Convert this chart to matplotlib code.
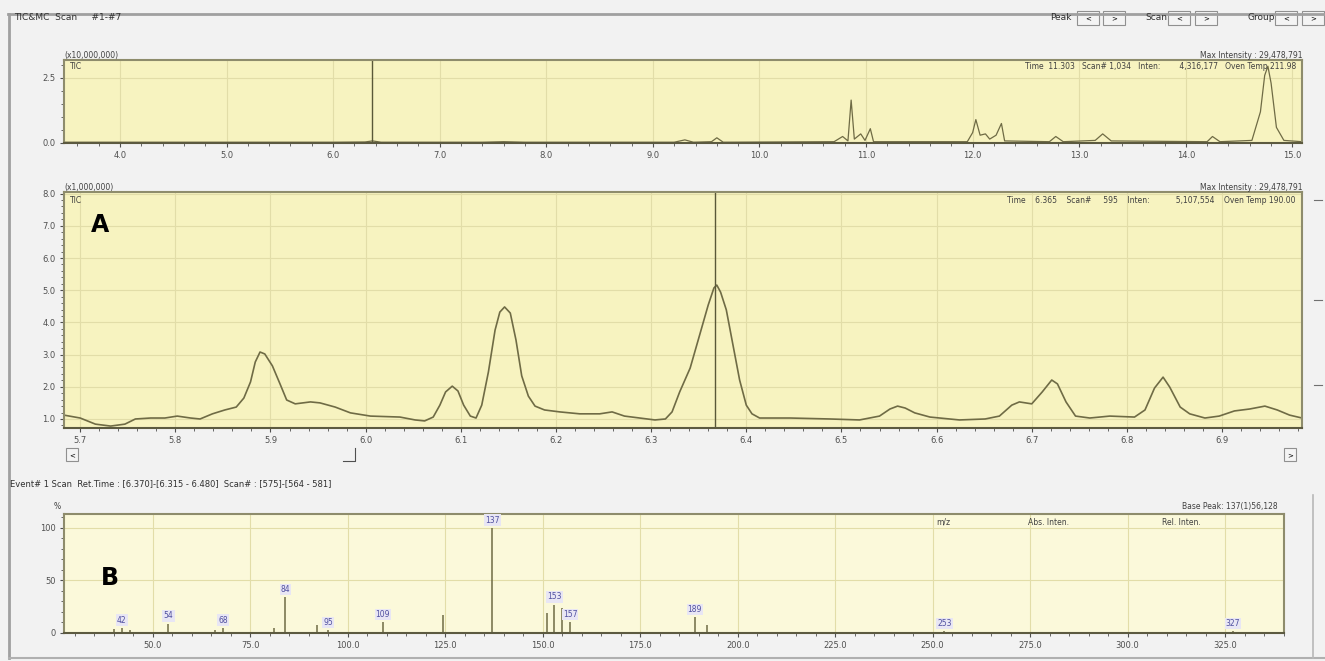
import matplotlib
matplotlib.use("Agg")
import matplotlib.pyplot as plt
from matplotlib.patches import Rectangle
from matplotlib.ticker import MultipleLocator

plt.rcParams.update({
    "font.family": "DejaVu Sans",
    "font.size": 6,
})

W, H = 1325, 661

# ── data ──────────────────────────────────────────────────────────────────────
# full TIC (x10,000,000)
tic_t = [3.475, 6.0, 6.30, 6.37, 6.45, 7.40, 7.60, 7.80, 9.20, 9.30, 9.38, 9.55,
         9.60, 9.66, 10.70, 10.78, 10.83, 10.86, 10.89, 10.95, 10.99, 11.04, 11.07,
         11.95, 12.00, 12.03, 12.07, 12.12, 12.16, 12.22, 12.27, 12.30, 12.72,
         12.78, 12.85, 13.15, 13.22, 13.30, 14.20, 14.25, 14.32, 14.62, 14.70,
         14.74, 14.77, 14.80, 14.85, 14.92, 15.09]
tic_i = [0.03, 0.03, 0.04, 0.08, 0.03, 0.03, 0.05, 0.03, 0.03, 0.12, 0.03, 0.05,
         0.20, 0.03, 0.05, 0.25, 0.08, 1.65, 0.15, 0.35, 0.10, 0.55, 0.05,
         0.05, 0.40, 0.90, 0.30, 0.35, 0.15, 0.30, 0.75, 0.08, 0.05,
         0.25, 0.05, 0.10, 0.35, 0.08, 0.05, 0.25, 0.05, 0.10, 1.20,
         2.60, 2.95, 2.30, 0.60, 0.10, 0.05]

# zoomed TIC (x1,000,000)
zoom_t = [5.683, 5.700, 5.716, 5.732, 5.747, 5.758, 5.774, 5.789, 5.802, 5.816,
          5.826, 5.839, 5.852, 5.864, 5.872, 5.879, 5.884, 5.889, 5.894, 5.902,
          5.910, 5.917, 5.926, 5.942, 5.952, 5.968, 5.984, 6.005, 6.036, 6.052,
          6.062, 6.071, 6.078, 6.084, 6.091, 6.097, 6.103, 6.110, 6.116, 6.122,
          6.129, 6.136, 6.141, 6.146, 6.152, 6.158, 6.164, 6.171, 6.178, 6.188,
          6.204, 6.225, 6.246, 6.259, 6.272, 6.288, 6.304, 6.315, 6.322, 6.330,
          6.341, 6.351, 6.360, 6.366, 6.369, 6.373, 6.379, 6.386, 6.393, 6.400,
          6.406, 6.414, 6.446, 6.488, 6.519, 6.540, 6.551, 6.559, 6.567, 6.577,
          6.593, 6.624, 6.651, 6.666, 6.679, 6.687, 6.700, 6.711, 6.721, 6.727,
          6.736, 6.746, 6.761, 6.782, 6.808, 6.819, 6.829, 6.838, 6.845, 6.856,
          6.866, 6.882, 6.897, 6.913, 6.929, 6.945, 6.958, 6.971, 6.984]
zoom_i = [1.12, 1.03, 0.84, 0.78, 0.84, 1.00, 1.03, 1.03, 1.09, 1.03,
          1.00, 1.16, 1.28, 1.37, 1.65, 2.15, 2.77, 3.08, 3.02, 2.65,
          2.09, 1.59, 1.47, 1.53, 1.50, 1.37, 1.19, 1.09, 1.06, 0.97,
          0.94, 1.06, 1.43, 1.84, 2.02, 1.87, 1.43, 1.09, 1.03, 1.43,
          2.46, 3.76, 4.32, 4.48, 4.29, 3.45, 2.34, 1.71, 1.40, 1.28,
          1.22, 1.16, 1.16, 1.22, 1.09, 1.03, 0.97, 1.00, 1.22, 1.84,
          2.58, 3.61, 4.54, 5.07, 5.16, 4.94, 4.39, 3.30, 2.21, 1.43,
          1.16, 1.03, 1.03, 1.00, 0.97, 1.09, 1.31, 1.40, 1.34, 1.19,
          1.06, 0.97, 1.00, 1.09, 1.43, 1.53, 1.47, 1.84, 2.21, 2.09,
          1.53, 1.09, 1.03, 1.09, 1.06, 1.28, 1.96, 2.30, 1.99, 1.37,
          1.16, 1.03, 1.09, 1.25, 1.31, 1.40, 1.28, 1.12, 1.03]
cursor_t = 6.367

# mass spectrum
mz = [40, 42, 44, 54, 66, 68, 81, 84, 92, 95, 109, 124.5, 137, 151, 153,
      155, 157, 189, 192, 253, 327]
rel = [4, 5, 3, 9, 3, 5, 5, 34, 8, 3, 10, 17, 100, 19, 27,
       24, 10, 15, 8, 2, 2]
mz_labels = {42: "42", 54: "54", 68: "68", 84: "84", 95: "95", 109: "109",
             137: "137", 153: "153", 157: "157", 189: "189", 253: "253",
             327: "327"}

# ── layout helpers ────────────────────────────────────────────────────────────
def box(l, t, r, b):
    return [l / W, 1 - b / H, (r - l) / W, (b - t) / H]


fig = plt.figure(figsize=(W / 100, H / 100), dpi=100)
fig.patch.set_facecolor("#f2f2f2")

bg = fig.add_axes([0, 0, 1, 1], zorder=-1)
bg.set_xlim(0, W)
bg.set_ylim(H, 0)
bg.axis("off")

# window frames
bg.plot([8, W], [14, 14], color="#a0a0a0", lw=2)
bg.plot([9, 9], [14, 658], color="#a0a0a0", lw=2)
bg.plot([9, W], [658, 658], color="#b0b0b0", lw=1.5)
bg.plot([1313, 1313], [495, 658], color="#b8b8b8", lw=1.2)

bg.text(14, 18, "TIC&MC  Scan     #1-#7", fontsize=6.5, va="center", color="#303030")

# navigation buttons
bx = [(1050, "Peak", [1077, 1103]), (1145, "Scan", [1168, 1195]),
      (1248, "Group", [1275, 1302])]
for x0, lab, starts in bx:
    bg.text(x0, 18, lab, fontsize=6.5, va="center", color="#303030")
    for s, arr in zip(starts, ["<", ">"]):
        bg.add_patch(Rectangle((s, 11), 22, 14, fc="#f4f4f4", ec="#909090", lw=0.8))
        bg.text(s + 11, 18, arr, fontsize=5, ha="center", va="center")

# small scroll controls under chromatogram
for xx, s in [(72, "<"), (1290, ">")]:
    bg.add_patch(Rectangle((xx - 6, 448), 12, 13, fc="#f4f4f4", ec="#909090", lw=0.8))
    bg.text(xx, 455, s, fontsize=5, ha="center", va="center")
bg.plot([343, 355, 355], [461, 461, 448], color="#505050", lw=0.8)
for yy in [200, 300, 385]:
    bg.plot([1314, 1322], [yy, yy], color="#707070", lw=0.8)

bg.text(10, 484, "Event# 1 Scan  Ret.Time : [6.370]-[6.315 - 6.480]  Scan# : [575]-[564 - 581]",
        fontsize=6, va="center", color="#303030")

LINE = "#6f6b45"
GRID = "#e2dda8"
SPINE = "#8e8c6c"


def style(ax, face):
    ax.set_facecolor(face)
    for s in ax.spines.values():
        s.set_color(SPINE)
        s.set_linewidth(1.5)
    ax.spines["bottom"].set_color("#5c5a40")
    ax.tick_params(direction="out", length=3, width=0.8, colors="#505050",
                   labelsize=6, pad=3)
    ax.tick_params(which="minor", length=2, width=0.6, colors="#505050")
    ax.grid(True, color=GRID, lw=0.8)
    ax.set_axisbelow(True)


# ── top: full TIC ─────────────────────────────────────────────────────────────
ax1 = fig.add_axes(box(64, 60, 1302, 143))
style(ax1, "#f7f3c0")
ax1.plot(tic_t, tic_i, color=LINE, lw=0.9)
ax1.axvline(cursor_t, color="#5a5838", lw=1.0)
ax1.set_xlim(3.475, 15.09)
ax1.set_ylim(0, 3.19)
ax1.xaxis.set_major_locator(MultipleLocator(1.0))
ax1.xaxis.set_minor_locator(MultipleLocator(0.2))
ax1.yaxis.set_major_locator(MultipleLocator(2.5))
ax1.yaxis.set_minor_locator(MultipleLocator(0.5))
ax1.xaxis.set_major_formatter(lambda v, p: f"{v:.1f}")
ax1.yaxis.set_major_formatter(lambda v, p: f"{v:.1f}")
ax1.text(0.0, 1.02, "(x10,000,000)", transform=ax1.transAxes, fontsize=5.5, color="#404040")
ax1.text(0.005, 0.97, "TIC", transform=ax1.transAxes, fontsize=5.5, va="top", color="#404040")
ax1.text(1.0, 1.02, "Max Intensity : 29,478,791", transform=ax1.transAxes,
         fontsize=5.5, ha="right", color="#404040")
ax1.text(0.995, 0.97, "Time  11.303   Scan# 1,034   Inten:        4,316,177   Oven Temp 211.98",
         transform=ax1.transAxes, fontsize=5.5, ha="right", va="top", color="#404040")

# ── middle: zoomed TIC ────────────────────────────────────────────────────────
ax2 = fig.add_axes(box(64, 192, 1302, 428))
style(ax2, "#f7f3c0")
ax2.plot(zoom_t, zoom_i, color=LINE, lw=1.2, solid_joinstyle="round")
ax2.axvline(cursor_t, color="#5a5838", lw=1.0)
ax2.set_xlim(5.683, 6.984)
ax2.set_ylim(0.72, 8.05)
ax2.xaxis.set_major_locator(MultipleLocator(0.1))
ax2.xaxis.set_minor_locator(MultipleLocator(0.02))
ax2.yaxis.set_major_locator(MultipleLocator(1.0))
ax2.yaxis.set_minor_locator(MultipleLocator(0.2))
ax2.xaxis.set_major_formatter(lambda v, p: f"{v:.1f}")
ax2.yaxis.set_major_formatter(lambda v, p: f"{v:.1f}")
ax2.text(0.0, 1.01, "(x1,000,000)", transform=ax2.transAxes, fontsize=5.5, color="#404040")
ax2.text(0.005, 0.985, "TIC", transform=ax2.transAxes, fontsize=5.5, va="top", color="#404040")
ax2.text(1.0, 1.01, "Max Intensity : 29,478,791", transform=ax2.transAxes,
         fontsize=5.5, ha="right", color="#404040")
ax2.text(0.995, 0.985, "Time    6.365    Scan#     595    Inten:           5,107,554    Oven Temp 190.00",
         transform=ax2.transAxes, fontsize=5.5, ha="right", va="top", color="#404040")
ax2.text(0.022, 0.83, "A", transform=ax2.transAxes, fontsize=17, fontweight="bold")

# ── bottom: mass spectrum ─────────────────────────────────────────────────────
ax3 = fig.add_axes(box(64, 514, 1284, 633))
style(ax3, "#fbf9da")
ax3.vlines(mz, 0, rel, color=LINE, lw=1.1)
for m, r in zip(mz, rel):
    if m in mz_labels:
        ax3.text(m, r + 3, mz_labels[m], fontsize=5.5, ha="center", va="bottom",
                 color="#5050a0",
                 bbox=dict(boxstyle="square,pad=0.15", fc="#e8e6f4", ec="none"))
ax3.set_xlim(27.2, 340.1)
ax3.set_ylim(0, 113)
ax3.xaxis.set_major_locator(MultipleLocator(25))
ax3.xaxis.set_minor_locator(MultipleLocator(5))
ax3.yaxis.set_major_locator(MultipleLocator(50))
ax3.yaxis.set_minor_locator(MultipleLocator(10))
ax3.xaxis.set_major_formatter(lambda v, p: f"{v:.1f}")
ax3.yaxis.set_major_formatter(lambda v, p: f"{v:.0f}")
ax3.text(-0.003, 1.04, "%", transform=ax3.transAxes, fontsize=5.5, ha="right", color="#404040")
ax3.text(0.995, 1.04, "Base Peak: 137(1)56,128", transform=ax3.transAxes,
         fontsize=5.5, ha="right", color="#404040")
ax3.text(0.715, 0.97, "m/z", transform=ax3.transAxes, fontsize=5.5, va="top", color="#404040")
ax3.text(0.79, 0.97, "Abs. Inten.", transform=ax3.transAxes, fontsize=5.5, va="top", color="#404040")
ax3.text(0.90, 0.97, "Rel. Inten.", transform=ax3.transAxes, fontsize=5.5, va="top", color="#404040")
ax3.text(0.03, 0.4, "B", transform=ax3.transAxes, fontsize=17, fontweight="bold")

fig.savefig("out.png", dpi=100, facecolor=fig.get_facecolor())
